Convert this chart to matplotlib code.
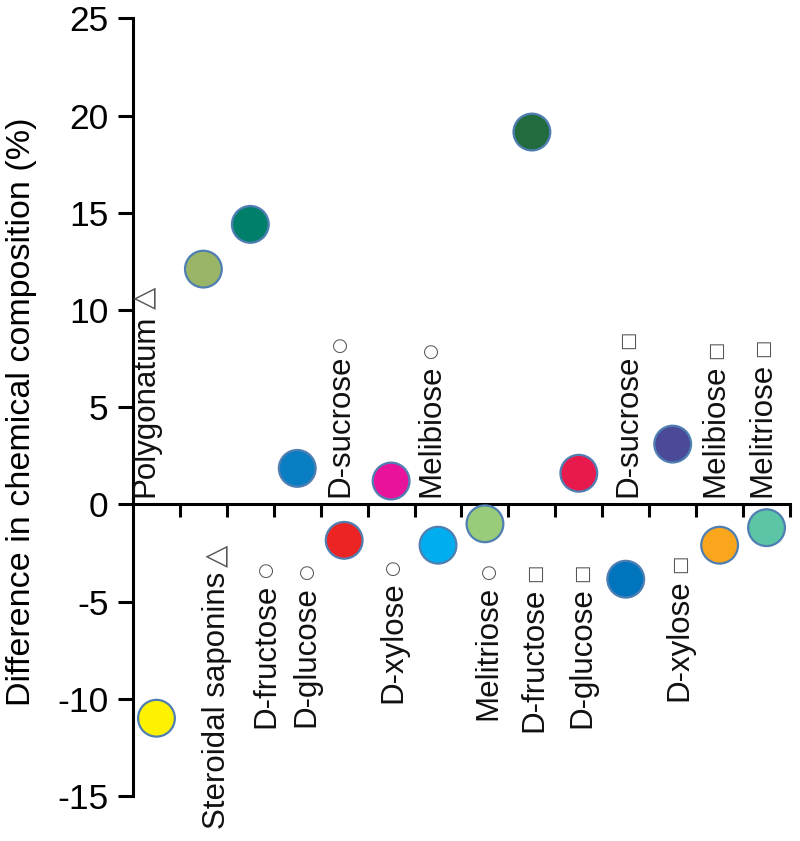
import numpy as np
import matplotlib
matplotlib.use("Agg")
import matplotlib.pyplot as plt

plt.rcParams['font.family'] = ['Liberation Sans', 'DejaVu Sans']
plt.rcParams['axes.unicode_minus'] = False

# data
names = ["Polygonatum", "Steroidal saponins",
         "D-fructose", "D-glucose", "D-sucrose", "D-xylose",
         "Melibiose", "Melitriose",
         "D-fructose", "D-glucose", "D-sucrose", "D-xylose",
         "Melibiose", "Melitriose"]
symbols = ["△", "△", "○", "○", "○", "○", "○", "○",
           "□", "□", "□", "□", "□", "□"]
values = [-11.0, 12.1, 14.4, 1.85, -1.85, 1.2, -2.1, -1.0,
          19.15, 1.6, -3.85, 3.1, -2.1, -1.2]
colors = ["#FFF200", "#9BB566", "#00806B", "#0A7EC2", "#EC2424", "#E8139A",
          "#00AEEF", "#99CC7A", "#216B3F", "#E8194C", "#0075BE", "#4A4A98",
          "#F9A61C", "#5CC5A6"]
yticks = [-15, -10, -5, 0, 5, 10, 15, 20, 25]

# label layout: side (+1 above axis, -1 below), offset inside the slot,
# and where the label starts
label_side = [1, -1, -1, -1, 1, -1, 1, -1, -1, -1, 1, -1, 1, 1]
label_dx = [0.26, 0.80, 0.84, 0.70, 0.42, 0.55, 0.36, 0.58,
            0.55, 0.57, 0.55, 0.64, 0.42, 0.42]
label_y = [0.4, -2.05, -3.0, -3.1, 0.4, -2.85, 0.4, -3.1,
           -3.05, -3.05, 0.4, -2.6, 0.4, 0.4]

fig = plt.figure(figsize=(8, 8.41), dpi=100)
ax = fig.add_axes([133 / 800, 1 - 796 / 841, 657 / 800, (796 - 18.3) / 841])

x = np.arange(len(values)) + 0.5
ax.scatter(x, values, s=700, c=colors, edgecolors="#4F7FB2",
           linewidths=1.6, zorder=3, clip_on=False)

name_kw = dict(rotation=90, ha="center", fontsize=22.5, color="#111111")
sym_sizes = {"△": 21, "○": 13, "□": 14}
for i, (nm, sym, side) in enumerate(zip(names, symbols, label_side)):
    sym_kw = dict(rotation=90, ha="center", fontsize=sym_sizes[sym],
                  family="DejaVu Sans", color="#555555")
    gap = 1 if i == 4 else 4
    if side > 0:
        t = ax.text(i + label_dx[i], label_y[i], nm, va="bottom", **name_kw)
        ax.annotate(sym, xy=(0.5, 1), xycoords=t, xytext=(0, gap),
                    textcoords="offset points", va="bottom", **sym_kw)
    else:
        s = ax.text(i + label_dx[i], label_y[i], sym, va="top", **sym_kw)
        ax.annotate(nm, xy=(0.5, 0), xycoords=s, xytext=(0, -gap),
                    textcoords="offset points", va="top", **name_kw)

ax.set_xlim(0, len(values))
ax.set_ylim(-15, 25)
ax.spines['top'].set_visible(False)
ax.spines['right'].set_visible(False)
ax.spines['bottom'].set_position(('data', 0))
ax.spines['left'].set_linewidth(2.2)
ax.spines['bottom'].set_linewidth(2.2)

ax.set_xticks(np.arange(1, len(values) + 1))
ax.set_xticklabels([])
ax.set_yticks(yticks)
ax.set_yticklabels([str(t) for t in yticks])
ax.tick_params(axis='x', direction='out', length=9.5, width=2.2)
ax.tick_params(axis='y', direction='out', length=10.5, width=2.2,
               labelsize=25.5, pad=7)

fig.text(22 / 800, 1 - 412 / 841, "Difference in chemical composition (%)",
         rotation=90, ha="center", va="center", fontsize=24.5)

fig.savefig("out.png", dpi=100)
